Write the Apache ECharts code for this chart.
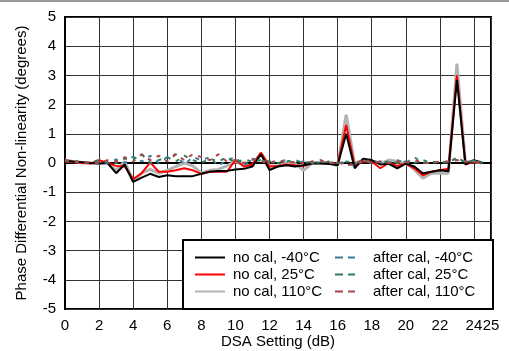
<!DOCTYPE html>
<html>
<head>
<meta charset="utf-8">
<script src="https://cdn.jsdelivr.net/npm/echarts@6/dist/echarts.min.js"></script>
<style>
  html, body { margin: 0; padding: 0; background: #fff; }
  #chart { width: 509px; height: 351px; }
</style>
</head>
<body>
<div id="chart"></div>
<script>
// DSA setting (dB)
const dsa = [0, 0.5, 1, 1.5, 2, 2.5, 3, 3.5, 4, 4.5, 5, 5.5, 6, 6.5, 7, 7.5, 8, 8.5, 9, 9.5,
  10, 10.5, 11, 11.5, 12, 12.5, 13, 13.5, 14, 14.5, 15, 15.5, 16, 16.5, 17, 17.5, 18, 18.5, 19, 19.5,
  20, 20.5, 21, 21.5, 22, 22.5, 23, 23.5, 24, 24.5];

const noCalM40 = [0.08, 0.05, 0.03, 0.0, -0.02, 0.0, -0.35, -0.05, -0.65, -0.5, -0.37, -0.48, -0.42, -0.45, -0.45, -0.45, -0.37, -0.3, -0.27, -0.27,
  -0.22, -0.2, -0.12, 0.3, -0.24, -0.12, -0.08, -0.12, -0.08, -0.02, -0.02, -0.03, -0.08, 1.0, -0.18, 0.15, 0.1, -0.05, -0.03, -0.18,
  -0.02, -0.12, -0.35, -0.3, -0.25, -0.28, 2.85, -0.05, 0.1, 0.0];
const noCal25 = [0.05, 0.03, 0.0, -0.02, 0.1, 0.0, -0.1, -0.12, -0.55, -0.35, 0.02, -0.3, -0.3, -0.25, -0.18, -0.25, -0.37, -0.3, -0.3, -0.3,
  0.1, -0.12, -0.05, 0.35, -0.12, -0.1, -0.05, -0.08, -0.1, 0.0, 0.0, 0.0, -0.05, 1.3, -0.1, 0.05, 0.05, -0.18, 0.0, -0.1,
  -0.02, -0.18, -0.42, -0.3, -0.25, -0.2, 3.0, -0.05, 0.05, 0.0];
const noCal110 = [0.1, 0.05, 0.02, 0.0, -0.02, 0.02, -0.25, 0.05, -0.6, -0.35, -0.22, -0.35, -0.25, -0.12, 0.0, -0.1, -0.35, -0.25, -0.22, -0.1,
  0.05, -0.05, -0.1, 0.35, -0.1, -0.1, 0.0, -0.02, -0.25, 0.0, 0.0, 0.0, -0.1, 1.65, -0.05, 0.1, 0.05, -0.02, 0.1, 0.05,
  0.0, -0.22, -0.52, -0.35, -0.35, -0.35, 3.4, 0.0, 0.05, 0.0];
const afterM40 = [0.08, 0.05, 0.02, 0.0, 0.05, 0.0, 0.12, 0.0, 0.22, 0.05, 0.25, 0.0, 0.2, 0.3, -0.05, 0.2, 0.1, 0.2, -0.1, 0.1,
  0.2, -0.1, 0.15, 0.1, 0.0, 0.05, 0.1, 0.0, 0.05, 0.0, 0.05, 0.0, 0.02, 0.0, -0.1, 0.08, 0.0, 0.05, 0.0, 0.1,
  0.0, 0.2, 0.0, 0.05, 0.0, 0.05, 0.15, 0.05, 0.08, 0.0];
const after25 = [0.05, 0.08, 0.0, 0.03, 0.1, 0.05, 0.0, 0.15, 0.12, 0.3, 0.0, 0.1, 0.2, 0.05, 0.25, 0.1, 0.0, 0.15, 0.05, 0.2,
  0.0, 0.12, 0.05, 0.1, 0.05, 0.0, 0.05, 0.1, 0.0, 0.05, 0.0, 0.05, 0.0, 0.05, 0.0, 0.05, 0.1, 0.0, 0.05, 0.0,
  0.05, 0.0, 0.1, 0.0, 0.05, 0.0, 0.2, 0.0, 0.1, 0.02];
const after110 = [0.1, 0.05, 0.05, 0.0, 0.0, 0.1, 0.05, 0.2, 0.05, 0.3, 0.1, 0.25, 0.05, 0.3, 0.1, 0.3, 0.2, 0.1, 0.3, 0.05,
  0.1, 0.0, 0.12, 0.05, 0.0, 0.1, 0.0, 0.05, 0.0, 0.05, 0.1, 0.0, 0.05, -0.1, 0.0, 0.1, 0.0, 0.05, 0.0, 0.05,
  0.0, 0.1, 0.0, 0.0, 0.05, 0.05, 0.1, 0.05, 0.05, 0.0];

const font = 'Liberation Sans, Arial, sans-serif';
const pairs = (ys) => ys.map((y, i) => [dsa[i], y]);

const solid = (name, data, color, width) => ({
  name, type: 'line', data: pairs(data), symbol: 'none', silent: true,
  lineStyle: { color, width }, itemStyle: { color }
});
const dashed = (name, data, color) => ({
  name, type: 'line', data: pairs(data), symbol: 'none', silent: true,
  lineStyle: { color, width: 2, type: [4, 6] }, itemStyle: { color }
});

// legend samples: a plain bar for solid lines, two short bars for dashed ones
const barIcon = 'rect';
const dashIcon = 'path://M0,0h8v2h-8z M13,0h7v2h-7z';

const chart = echarts.init(document.getElementById('chart'));
chart.setOption({
  animation: false,
  backgroundColor: '#fff',
  grid: {
    left: 65, right: 18, top: 17, bottom: 42, outerBoundsMode: 'none',
    show: true, borderColor: '#000', borderWidth: 2
  },
  xAxis: {
    type: 'value', min: 0, max: 25, interval: 2,
    name: 'DSA Setting (dB)', nameLocation: 'middle', nameGap: 25, nameMoveOverlap: false,
    nameTextStyle: { fontFamily: font, fontSize: 15, color: '#000' },
    axisLine: { lineStyle: { color: '#000', width: 2 } },
    axisTick: { show: false },
    axisLabel: { fontFamily: font, fontSize: 15, color: '#000', margin: 9 },
    splitLine: { lineStyle: { color: '#333', width: 1 } }
  },
  yAxis: {
    type: 'value', min: -5, max: 5, interval: 1,
    name: 'Phase Differential Non-linearity (degrees)', nameLocation: 'middle', nameGap: 36, nameMoveOverlap: false,
    nameTextStyle: { fontFamily: font, fontSize: 15, color: '#000' },
    axisLine: { show: true, lineStyle: { color: '#000', width: 2 } },
    axisTick: { show: false },
    axisLabel: { fontFamily: font, fontSize: 15, color: '#000', margin: 9 },
    splitLine: { lineStyle: { color: '#333', width: 1 } }
  },
  legend: [
    {
      data: [
        { name: 'no cal, -40°C', icon: barIcon },
        { name: 'no cal, 25°C', icon: barIcon },
        { name: 'no cal, 110°C', icon: barIcon }
      ],
      orient: 'vertical', left: 195, top: 250, padding: 0, itemWidth: 30, itemHeight: 2, itemGap: 2,
      textStyle: { fontFamily: font, fontSize: 15, color: '#000', padding: [0, 0, 0, 3] }, z: 10
    },
    {
      data: [
        { name: 'after cal, -40°C', icon: dashIcon },
        { name: 'after cal, 25°C', icon: dashIcon },
        { name: 'after cal, 110°C', icon: dashIcon }
      ],
      orient: 'vertical', left: 335, top: 250, padding: 0, itemWidth: 20, itemHeight: 2, itemGap: 2,
      textStyle: { fontFamily: font, fontSize: 15, color: '#000', padding: [0, 0, 0, 13] }, z: 10
    }
  ],
  graphic: [
    { type: 'line', shape: { x1: 0, y1: 1, x2: 509, y2: 1 }, style: { stroke: '#999', lineWidth: 2 }, z: 1 },
    { type: 'rect', shape: { x: 183, y: 240, width: 310, height: 69 }, style: { fill: '#fff', stroke: '#000', lineWidth: 2 }, z: 5 }
  ],
  series: [
    solid('no cal, 110°C', noCal110, '#b3b3b3', 3),
    solid('no cal, 25°C', noCal25, '#ff0000', 2),
    solid('no cal, -40°C', noCalM40, '#000000', 2),
    dashed('after cal, -40°C', afterM40, '#3f7a96'),
    dashed('after cal, 25°C', after25, '#2e7a5c'),
    dashed('after cal, 110°C', after110, '#b04444')
  ]
});
</script>
</body>
</html>
